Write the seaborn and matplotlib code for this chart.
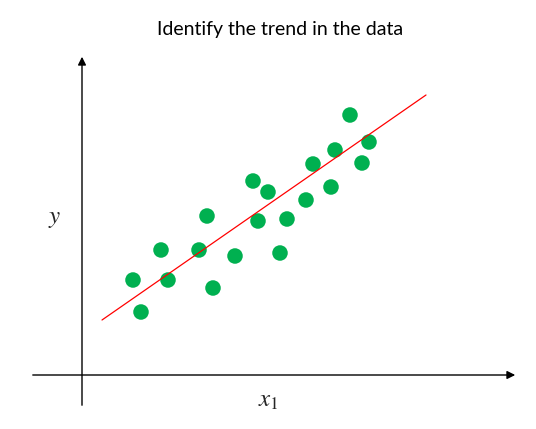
import matplotlib
matplotlib.use("Agg")
import matplotlib.pyplot as plt
import seaborn as sns
import pandas as pd

# data
x1 = [5.1, 5.9, 7.9, 8.6, 11.7, 12.5, 13.1, 15.3, 17.1, 17.6,
      18.6, 19.8, 20.5, 22.4, 23.1, 24.9, 25.3, 26.8, 28.0, 28.7]
y = [9.5, 6.3, 12.5, 9.5, 12.5, 15.9, 8.7, 11.9, 19.4, 15.4,
     18.3, 12.2, 15.6, 17.5, 21.1, 18.8, 22.5, 26.0, 21.2, 23.3]
trend_x = [2.0, 34.4]
trend_y = [5.5, 28.0]

df = pd.DataFrame({"x1": x1, "y": y})

sns.set_theme(style="white")
plt.rcParams["mathtext.fontset"] = "stix"

fig = plt.figure(figsize=(5.36, 4.29), dpi=100)
ax = fig.add_axes([0, 0, 1, 1])
ax.set_xlim(-8.2, 45.4)
ax.set_ylim(-5.4, 37.5)
ax.axis("off")

# axes with arrows
ax.annotate("", xy=(43.6, 0), xytext=(-5.2, 0),
            arrowprops=dict(arrowstyle="-|>", color="black", lw=1.0, mutation_scale=12))
ax.annotate("", xy=(0, 32.1), xytext=(0, -3.3),
            arrowprops=dict(arrowstyle="-|>", color="black", lw=1.0, mutation_scale=12))

ax.plot(trend_x, trend_y, color="#ff0000", lw=0.9, zorder=3)
sns.scatterplot(data=df, x="x1", y="y", ax=ax, color="#00b050", s=125,
                edgecolor="none", zorder=2)

ax.text(-2.7, 15.7, "$y$", fontsize=18, ha="center", va="center")
ax.text(18.6, -2.5, "$x_1$", fontsize=18, ha="center", va="center")

fig.text(280 / 536, 1 - 30 / 429, "Identify the trend in the data",
         ha="center", va="center", fontsize=14, family="Lato", color="black")

fig.savefig("out.png", dpi=100)
